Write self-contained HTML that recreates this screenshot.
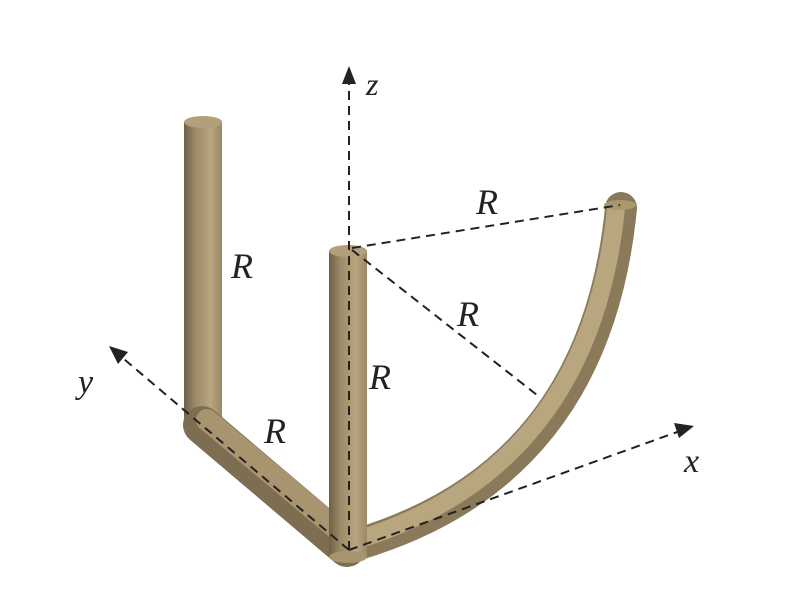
<!DOCTYPE html>
<html><head><meta charset="utf-8"><style>
html,body{margin:0;padding:0;background:#fff;}
svg{display:block;}
text{font-family:"Liberation Serif",serif;font-style:italic;fill:#222;}
</style></head><body>
<svg width="800" height="610" viewBox="0 0 800 610" xmlns="http://www.w3.org/2000/svg">
<defs>
<linearGradient id="gv" x1="0" x2="1" y1="0" y2="0">
<stop offset="0" stop-color="#6f6148"/><stop offset="0.3" stop-color="#9c8a66"/><stop offset="0.7" stop-color="#b9a67f"/><stop offset="1" stop-color="#9a8865"/>
</linearGradient>
</defs>
<rect x="184" y="122" width="38" height="305" fill="url(#gv)"/>
<ellipse cx="203" cy="122" rx="19" ry="6" fill="#b3a07a"/>
<line x1="202" y1="425" x2="347" y2="548" stroke="#7d6e52" stroke-width="38" stroke-linecap="round"/>
<line x1="207" y1="420" x2="350" y2="540" stroke="#a8956f" stroke-width="22" stroke-linecap="round"/>
<path d="M355 545 Q 595 475 621 208" fill="none" stroke="#8a7a5a" stroke-width="32" stroke-linecap="round"/>
<path d="M357 540 Q 590 468 616 208" fill="none" stroke="#b8a67f" stroke-width="18"/>
<ellipse cx="620" cy="205" rx="16" ry="5" fill="#a9976f"/>
<rect x="329" y="251" width="38" height="306" fill="url(#gv)"/>
<ellipse cx="348" cy="557" rx="19" ry="6" fill="#a8956f"/>
<ellipse cx="348" cy="251" rx="19" ry="6" fill="#b3a07a"/>
<g stroke="#222" stroke-width="2" stroke-dasharray="9,6" fill="none">
<line x1="349" y1="550" x2="349" y2="82"/>
<line x1="349" y1="550" x2="118" y2="354"/>
<line x1="349" y1="550" x2="680" y2="431"/>
<line x1="352" y1="248" x2="620" y2="205"/>
<line x1="352" y1="250" x2="537" y2="395"/>
</g>
<polygon points="349,66 342,84 356,84" fill="#222"/>
<polygon points="109,346 128,352 118,364" fill="#222"/>
<polygon points="694,426 674,423 679,438" fill="#222"/>
<text x="366" y="95" font-size="32">z</text>
<text x="78" y="393" font-size="34">y</text>
<text x="684" y="472" font-size="34">x</text>
<text x="231" y="278" font-size="36">R</text>
<text x="476" y="214" font-size="36">R</text>
<text x="457" y="326" font-size="36">R</text>
<text x="369" y="389" font-size="36">R</text>
<text x="264" y="443" font-size="36">R</text>
</svg>
</body></html>
